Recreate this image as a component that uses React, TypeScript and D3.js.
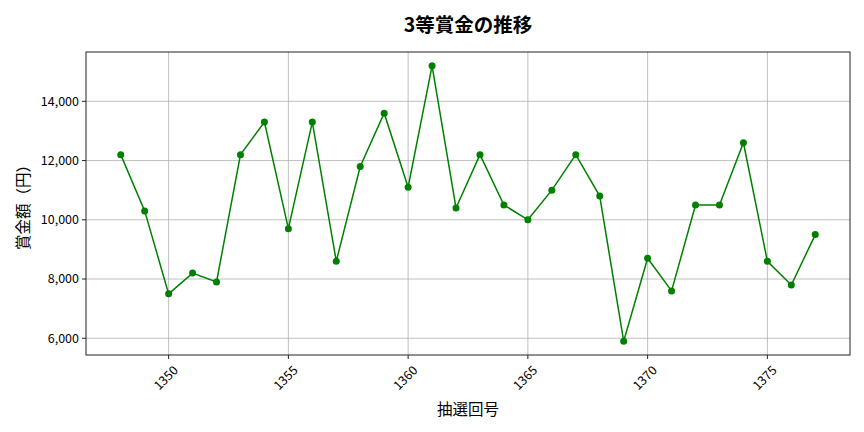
import React from 'react';
import * as d3 from 'd3';

const draws = [
  1348, 1349, 1350, 1351, 1352, 1353, 1354, 1355, 1356, 1357, 1358, 1359, 1360, 1361, 1362,
  1363, 1364, 1365, 1366, 1367, 1368, 1369, 1370, 1371, 1372, 1373, 1374, 1375, 1376, 1377,
];
const prizes = [
  12200, 10300, 7500, 8200, 7900, 12200, 13300, 9700, 13300, 8600, 11800, 13600, 11100, 15200, 10400,
  12200, 10500, 10000, 11000, 12200, 10800, 5900, 8700, 7600, 10500, 10500, 12600, 8600, 7800, 9500,
];
const xTicks = [1350, 1355, 1360, 1365, 1370, 1375];
const yTicks = [6000, 8000, 10000, 12000, 14000];

const title = '3等賞金の推移';
const xLabel = '抽選回号';
const yLabel = '賞金額（円）';

const width = 864;
const height = 432;
const margin = { top: 52, right: 14, bottom: 77, left: 86 };
const font = "'Noto Sans CJK JP', 'Noto Sans', sans-serif";

export default function App() {
  const innerW = width - margin.left - margin.right;
  const innerH = height - margin.top - margin.bottom;

  const data = draws.map((d, i) => ({ draw: d, prize: prizes[i] }));

  // matplotlib-style 5% margins on both axes
  const xMin = d3.min(draws)!;
  const xMax = d3.max(draws)!;
  const xPad = (xMax - xMin) * 0.05;
  const x = d3.scaleLinear().domain([xMin - xPad, xMax + xPad]).range([0, innerW]);

  const yMin = d3.min(prizes)!;
  const yMax = d3.max(prizes)!;
  const yPad = (yMax - yMin) * 0.05;
  const y = d3.scaleLinear().domain([yMin - yPad, yMax + yPad]).range([innerH, 0]);

  const line = d3
    .line<{ draw: number; prize: number }>()
    .x((d) => x(d.draw))
    .y((d) => y(d.prize));

  const fmt = d3.format(',');

  return (
    <svg
      width={width}
      height={height}
      style={{ position: 'absolute', left: 0, top: 0, background: '#fff' }}
      fontFamily={font}
    >
      <text x={margin.left + innerW / 2} y={32} textAnchor="middle" fontSize={19.5} fontWeight={700} fill="#000">
        {title}
      </text>
      <g transform={`translate(${margin.left},${margin.top})`}>
        {/* grid */}
        {xTicks.map((t) => (
          <line key={`gx${t}`} x1={x(t)} x2={x(t)} y1={0} y2={innerH} stroke="#b0b0b0" strokeWidth={0.8} />
        ))}
        {yTicks.map((t) => (
          <line key={`gy${t}`} x1={0} x2={innerW} y1={y(t)} y2={y(t)} stroke="#b0b0b0" strokeWidth={0.8} />
        ))}

        {/* series */}
        <path d={line(data) ?? ''} fill="none" stroke="green" strokeWidth={1.5} />
        {data.map((d) => (
          <circle key={d.draw} cx={x(d.draw)} cy={y(d.prize)} r={3.5} fill="green" />
        ))}

        {/* frame */}
        <rect x={0} y={0} width={innerW} height={innerH} fill="none" stroke="#222" strokeWidth={1} />

        {/* y ticks */}
        {yTicks.map((t) => (
          <g key={`yt${t}`} transform={`translate(0,${y(t)})`}>
            <line x1={-4} x2={0} stroke="#222" />
            <text x={-7} dy="0.35em" textAnchor="end" fontSize={12.5} fill="#000">
              {fmt(t)}
            </text>
          </g>
        ))}

        {/* x ticks */}
        {xTicks.map((t) => (
          <g key={`xt${t}`} transform={`translate(${x(t)},${innerH})`}>
            <line y1={0} y2={4} stroke="#222" />
            <text
              transform="translate(4,10) rotate(-45)"
              textAnchor="end"
              dy="0.7em"
              fontSize={12.5}
              fill="#000"
            >
              {t}
            </text>
          </g>
        ))}

        <text x={innerW / 2} y={innerH + 60} textAnchor="middle" fontSize={15.5} fill="#000">
          {xLabel}
        </text>
        <text
          transform={`translate(${-57},${innerH / 2}) rotate(-90)`}
          textAnchor="middle"
          fontSize={15.5}
          fill="#000"
        >
          {yLabel}
        </text>
      </g>
    </svg>
  );
}
